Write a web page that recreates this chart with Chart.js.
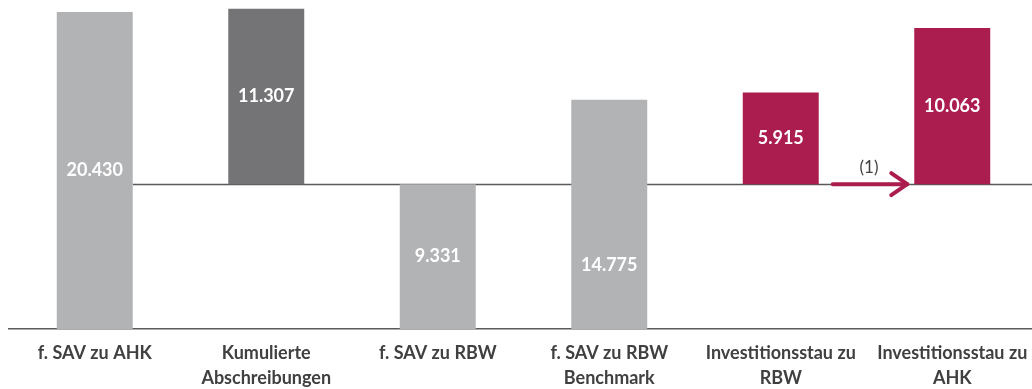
<!DOCTYPE html>
<html>
<head>
<meta charset="utf-8">
<script src="https://cdn.jsdelivr.net/npm/chart.js@4.4.1/dist/chart.umd.min.js"></script>
<style>
  html, body { margin: 0; padding: 0; background: #ffffff; overflow: hidden; }
  #wrap { width: 1032px; height: 389px; overflow: hidden; }
  canvas { display: block; }
</style>
</head>
<body>
<div id="wrap"><canvas id="chart" width="1040" height="389"></canvas></div>
<script>
// Categories (x-axis labels, split into lines)
const categories = [
  ['f. SAV zu AHK'],
  ['Kumulierte', 'Abschreibungen'],
  ['f. SAV zu RBW'],
  ['f. SAV zu RBW', 'Benchmark'],
  ['Investitionsstau zu', 'RBW'],
  ['Investitionsstau zu', 'AHK']
];
// Bar heights (the stated values, in T€)
const values = [20430, 11307, 9331, 14775, 5915, 10063];
// Where each bar starts
const bases = [0, 9331, 0, 0, 9331, 9331];
// Reference level drawn as a horizontal line
const referenceLevel = 9331;
// Vertical anchor of each value label as a fraction of the bar (from the bottom)
const labelAnchor = [0.5, 0.5, 0.5, 0.28, 0.5, 0.5];

const LIGHT = '#b2b3b5';
const DARK = '#747476';
const MAGENTA = '#ab1c4f';
const colors = [LIGHT, DARK, LIGHT, LIGHT, MAGENTA, MAGENTA];

function fmt(v) {
  return String(v).replace(/\B(?=(\d{3})+(?!\d))/g, '.');
}

const floating = values.map((v, i) => [bases[i], bases[i] + v]);

// Horizontal line at the reference level, starting at the right edge of the first bar
const refLinePlugin = {
  id: 'refLine',
  beforeDatasetsDraw(chart) {
    const { ctx, chartArea, scales } = chart;
    const first = chart.getDatasetMeta(0).data[0];
    const y = Math.round(scales.y.getPixelForValue(referenceLevel)) + 0.5;
    ctx.save();
    ctx.strokeStyle = '#5a5a5a';
    ctx.lineWidth = 1.3;
    ctx.beginPath();
    ctx.moveTo(first.x + first.width / 2, y);
    ctx.lineTo(chartArea.right + 10, y);
    ctx.stroke();
    ctx.restore();
  }
};

// Value labels inside the bars and the transfer arrow between the last two bars
const overlayPlugin = {
  id: 'overlay',
  afterDatasetsDraw(chart) {
    const { ctx, scales } = chart;
    const bars = chart.getDatasetMeta(0).data;
    ctx.save();
    ctx.fillStyle = '#ffffff';
    ctx.font = 'bold 18px Lato, "Open Sans", sans-serif';
    ctx.textAlign = 'center';
    ctx.textBaseline = 'middle';
    bars.forEach((bar, i) => {
      const v = bases[i] + values[i] * labelAnchor[i];
      ctx.fillText(fmt(values[i]), bar.x, scales.y.getPixelForValue(v));
    });

    // arrow from "Investitionsstau zu RBW" to "Investitionsstau zu AHK"
    const a = bars[4], b = bars[5];
    const y = scales.y.getPixelForValue(referenceLevel);
    const x0 = a.x + a.width / 2 + 14;
    const x1 = b.x - b.width / 2 - 7;
    ctx.strokeStyle = MAGENTA;
    ctx.lineWidth = 4;
    ctx.lineCap = 'round';
    ctx.lineJoin = 'round';
    ctx.beginPath();
    ctx.moveTo(x0, y);
    ctx.lineTo(x1, y);
    ctx.stroke();
    ctx.beginPath();
    ctx.moveTo(x1 - 16, y - 11);
    ctx.lineTo(x1, y);
    ctx.lineTo(x1 - 16, y + 11);
    ctx.stroke();

    ctx.fillStyle = '#404040';
    ctx.font = '17px Lato, "Open Sans", sans-serif';
    ctx.fillText('(1)', (x0 + x1) / 2 - 1, y - 17);
    ctx.restore();
  }
};

new Chart(document.getElementById('chart'), {
  type: 'bar',
  data: {
    labels: categories,
    datasets: [{
      data: floating,
      backgroundColor: colors,
      borderWidth: 0,
      barPercentage: 0.443,
      categoryPercentage: 1
    }]
  },
  options: {
    responsive: false,
    animation: false,
    devicePixelRatio: 1,
    layout: { padding: { left: 9, right: 2, top: 0, bottom: 0 } },
    plugins: {
      legend: { display: false },
      tooltip: { enabled: false }
    },
    scales: {
      x: {
        grid: { display: false, drawTicks: false },
        border: { display: true, color: '#5a5a5a', width: 1.5 },
        ticks: {
          color: '#404040',
          font: { family: 'Lato, "Open Sans", sans-serif', weight: 'bold', size: 18, lineHeight: 1.38 },
          padding: 12,
          maxRotation: 0,
          autoSkip: false
        },
        afterFit(scale) { scale.height = 60; }
      },
      y: {
        display: false,
        min: 0,
        max: 21200
      }
    }
  },
  plugins: [refLinePlugin, overlayPlugin]
});
</script>
</body>
</html>
